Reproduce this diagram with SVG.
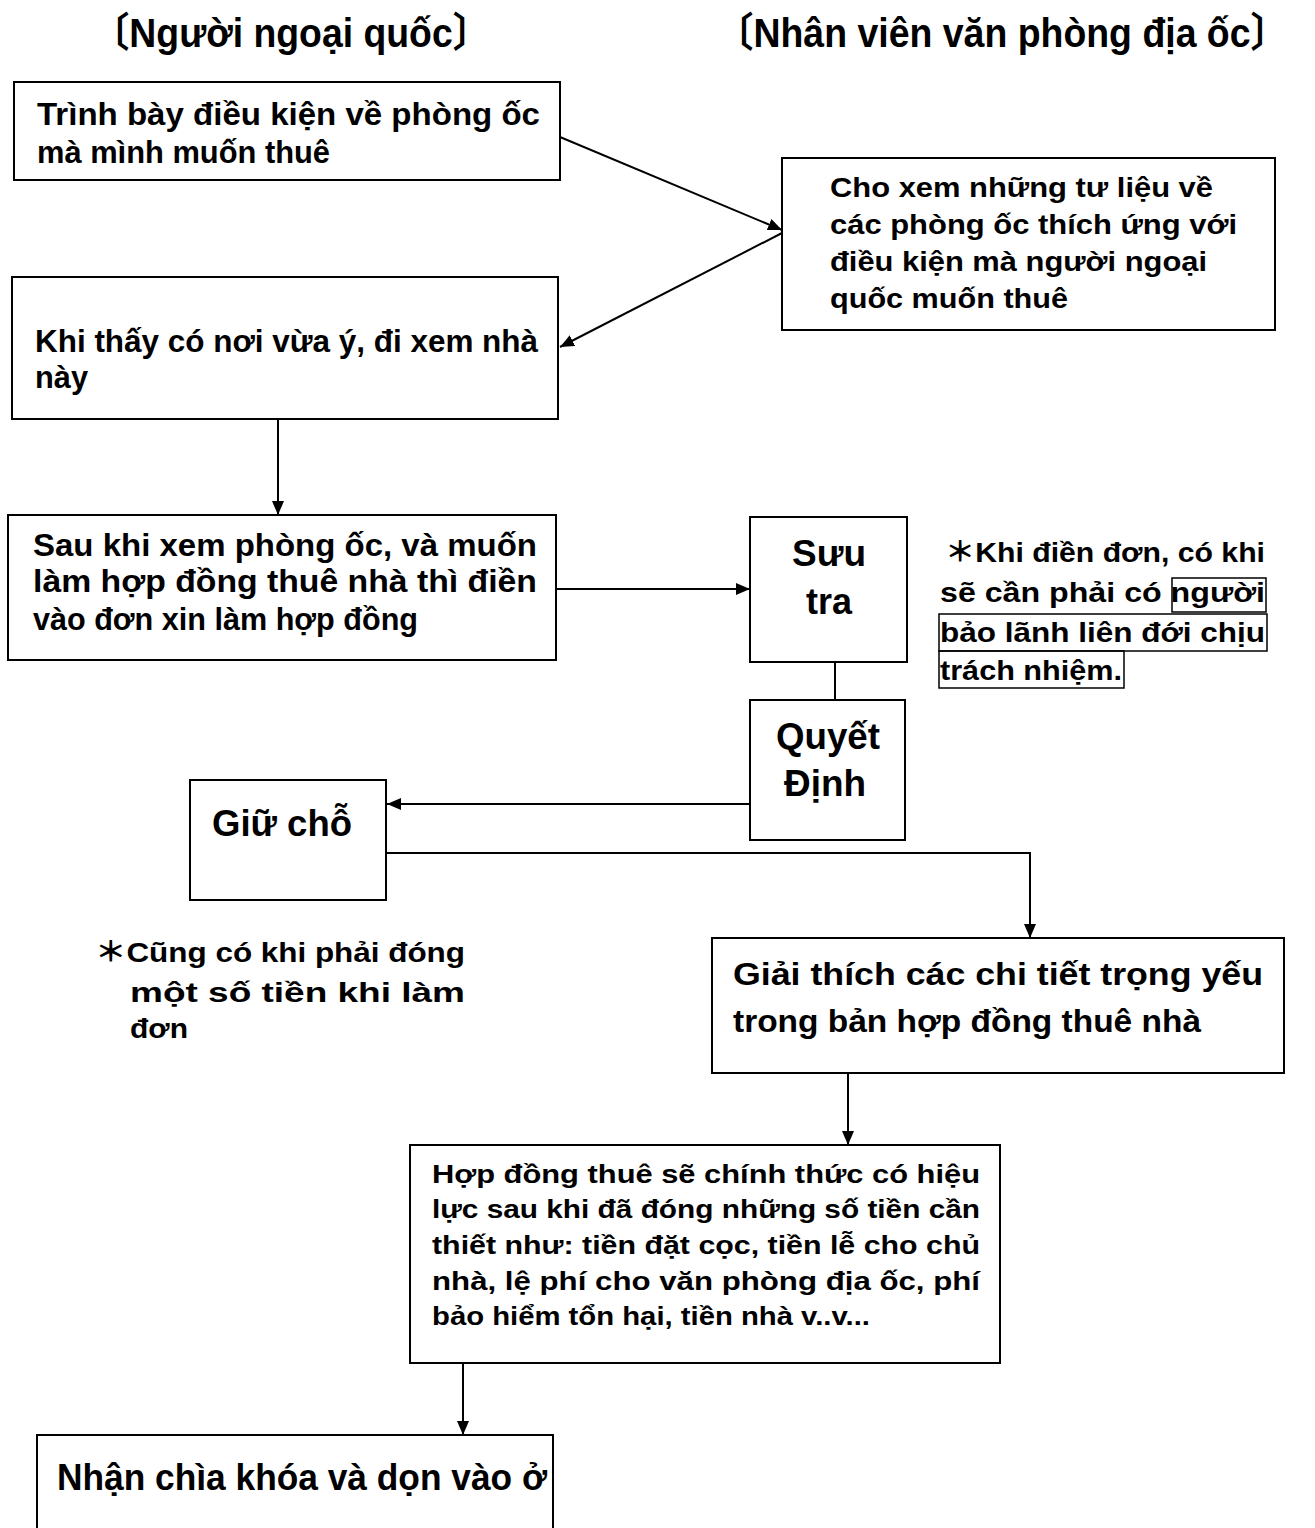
<svg xmlns="http://www.w3.org/2000/svg" width="1315" height="1528" viewBox="0 0 1315 1528">
<style>
text{font-family:"Liberation Sans","Noto Sans CJK SC",sans-serif;font-weight:bold;fill:#000}
.b{fill:#fff;stroke:#000;stroke-width:2}
.c{fill:none;stroke:#000;stroke-width:2}
.hl{fill:none;stroke:#000;stroke-width:1.5}
.h{font-size:32px}
.t{font-size:31px}
.s{font-size:28px}
.m{font-size:26.5px}
.l{font-size:36px}
</style>
<defs>
<marker id="ah" viewBox="0 0 14 12" refX="14" refY="6" markerWidth="14" markerHeight="12" markerUnits="userSpaceOnUse" orient="auto">
<path d="M0,0 L14,6 L0,12 z" fill="#000"/>
</marker>
</defs>
<rect width="1315" height="1528" fill="#fff"/>
<g id="headers">
<text class="h" transform="translate(92,47) scale(1,1.28)" x="0" y="0" textLength="398" lengthAdjust="spacingAndGlyphs">〔Người ngoại quốc〕</text>
<text class="h" transform="translate(716,47) scale(1,1.28)" x="0" y="0" textLength="572" lengthAdjust="spacingAndGlyphs">〔Nhân viên văn phòng địa ốc〕</text>
</g>
<g id="connectors">
<line class="c" x1="560" y1="137" x2="782" y2="230" marker-end="url(#ah)"/>
<line class="c" x1="782" y1="233" x2="560" y2="347" marker-end="url(#ah)"/>
<line class="c" x1="278" y1="419" x2="278" y2="515" marker-end="url(#ah)"/>
<line class="c" x1="556" y1="589" x2="750" y2="589" marker-end="url(#ah)"/>
<line class="c" x1="835" y1="662" x2="835" y2="700"/>
<line class="c" x1="750" y1="804" x2="387" y2="804" marker-end="url(#ah)"/>
<polyline class="c" points="386,853 1030,853 1030,938" marker-end="url(#ah)"/>
<line class="c" x1="848" y1="1073" x2="848" y2="1145" marker-end="url(#ah)"/>
<line class="c" x1="463" y1="1363" x2="463" y2="1435" marker-end="url(#ah)"/>
</g>
<g id="n1">
<rect class="b" x="14" y="82" width="546" height="98"/>
<text class="t" x="37" y="125" textLength="503" lengthAdjust="spacingAndGlyphs">Trình bày điều kiện về phòng ốc</text>
<text class="t" x="37" y="163" textLength="293" lengthAdjust="spacingAndGlyphs">mà mình muốn thuê</text>
</g>
<g id="n2">
<rect class="b" x="782" y="158" width="493" height="172"/>
<text class="s" x="830" y="197" textLength="383" lengthAdjust="spacingAndGlyphs">Cho xem những tư liệu về</text>
<text class="s" x="830" y="234" textLength="407" lengthAdjust="spacingAndGlyphs">các phòng ốc thích ứng với</text>
<text class="s" x="830" y="271" textLength="377" lengthAdjust="spacingAndGlyphs">điều kiện mà người ngoại</text>
<text class="s" x="830" y="308" textLength="238" lengthAdjust="spacingAndGlyphs">quốc muốn thuê</text>
</g>
<g id="n3">
<rect class="b" x="12" y="277" width="546" height="142"/>
<text class="t" x="35" y="352" textLength="503" lengthAdjust="spacingAndGlyphs">Khi thấy có nơi vừa ý, đi xem nhà</text>
<text class="t" x="35" y="388" textLength="53" lengthAdjust="spacingAndGlyphs">này</text>
</g>
<g id="n4">
<rect class="b" x="8" y="515" width="548" height="145"/>
<text class="t" x="33" y="556" textLength="504" lengthAdjust="spacingAndGlyphs">Sau khi xem phòng ốc, và muốn</text>
<text class="t" x="33" y="592" textLength="504" lengthAdjust="spacingAndGlyphs">làm hợp đồng thuê nhà thì điền</text>
<text class="t" x="33" y="630" textLength="385" lengthAdjust="spacingAndGlyphs">vào đơn xin làm hợp đồng</text>
</g>
<g id="n5">
<rect class="b" x="750" y="517" width="157" height="145"/>
<text class="l" x="829" y="566" text-anchor="middle" textLength="74" lengthAdjust="spacingAndGlyphs">Sưu</text>
<text class="l" x="829" y="614" text-anchor="middle" textLength="46" lengthAdjust="spacingAndGlyphs">tra</text>
</g>
<g id="n6">
<rect class="b" x="750" y="700" width="155" height="140"/>
<text class="l" x="828" y="749" text-anchor="middle" textLength="104" lengthAdjust="spacingAndGlyphs">Quyết</text>
<text class="l" x="825" y="796" text-anchor="middle" textLength="82" lengthAdjust="spacingAndGlyphs">Định</text>
</g>
<g id="note1">
<text class="s" x="945" y="562" textLength="320" lengthAdjust="spacingAndGlyphs">＊Khi điền đơn, có khi</text>
<text class="s" x="940" y="602" textLength="325" lengthAdjust="spacingAndGlyphs">sẽ cần phải có người</text>
<text class="s" x="940" y="642" textLength="325" lengthAdjust="spacingAndGlyphs">bảo lãnh liên đới chịu</text>
<text class="s" x="940" y="680" textLength="182" lengthAdjust="spacingAndGlyphs">trách nhiệm.</text>
<rect class="hl" x="1172" y="578" width="94" height="34"/>
<rect class="hl" x="939" y="614" width="328" height="37"/>
<rect class="hl" x="939" y="651" width="185" height="37"/>
</g>
<g id="n7">
<rect class="b" x="190" y="780" width="196" height="120"/>
<text class="l" x="212" y="836" textLength="140" lengthAdjust="spacingAndGlyphs">Giữ chỗ</text>
</g>
<g id="note2">
<text class="s" x="95" y="962" textLength="370" lengthAdjust="spacingAndGlyphs">＊Cũng có khi phải đóng</text>
<text class="s" x="130" y="1002" textLength="335" lengthAdjust="spacingAndGlyphs">một số tiền khi làm</text>
<text class="s" x="130" y="1038" textLength="58" lengthAdjust="spacingAndGlyphs">đơn</text>
</g>
<g id="n8">
<rect class="b" x="712" y="938" width="572" height="135"/>
<text class="t" x="733" y="985" textLength="530" lengthAdjust="spacingAndGlyphs">Giải thích các chi tiết trọng yếu</text>
<text class="t" x="733" y="1032" textLength="468" lengthAdjust="spacingAndGlyphs">trong bản hợp đồng thuê nhà</text>
</g>
<g id="n9">
<rect class="b" x="410" y="1145" width="590" height="218"/>
<text class="m" x="432" y="1183" textLength="548" lengthAdjust="spacingAndGlyphs">Hợp đồng thuê sẽ chính thức có hiệu</text>
<text class="m" x="432" y="1218" textLength="548" lengthAdjust="spacingAndGlyphs">lực sau khi đã đóng những số tiền cần</text>
<text class="m" x="432" y="1254" textLength="548" lengthAdjust="spacingAndGlyphs">thiết như: tiền đặt cọc, tiền lễ cho chủ</text>
<text class="m" x="432" y="1290" textLength="548" lengthAdjust="spacingAndGlyphs">nhà, lệ phí cho văn phòng địa ốc, phí</text>
<text class="m" x="432" y="1325" textLength="438" lengthAdjust="spacingAndGlyphs">bảo hiểm tổn hại, tiền nhà v..v...</text>
</g>
<g id="n10">
<rect class="b" x="37" y="1435" width="516" height="110"/>
<text class="l" x="57" y="1490" textLength="490" lengthAdjust="spacingAndGlyphs">Nhận chìa khóa và dọn vào ở</text>
</g>
</svg>
